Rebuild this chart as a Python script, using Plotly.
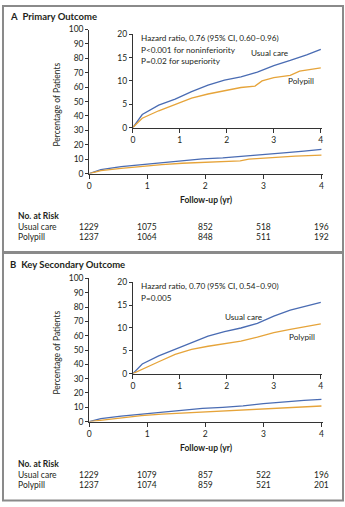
import plotly.graph_objects as go

W, H = 345, 507

# ---------- data ----------
years = [0, 1, 2, 3, 4]
t = [0, 0.2, 0.55, 0.9, 1.25, 1.6, 1.95, 2.3, 2.65, 3.0, 3.35, 3.7, 4.0]

a_usual = [0, 2.8, 4.8, 6.1, 7.7, 9.1, 10.2, 10.9, 11.9, 13.3, 14.4, 15.6, 16.8]
a_poly_t = [0, 0.2, 0.55, 0.9, 1.25, 1.6, 1.95, 2.3, 2.6, 2.75, 3.0, 3.35, 3.55, 4.0]
a_poly = [0, 2.0, 3.6, 5.0, 6.3, 7.2, 7.9, 8.6, 8.9, 10.0, 10.7, 11.2, 12.1, 12.8]

b_usual = [0, 2.1, 3.9, 5.3, 6.7, 8.2, 9.2, 10.0, 11.0, 12.6, 13.9, 14.8, 15.6]
b_poly = [0, 1.0, 2.6, 4.2, 5.3, 6.0, 6.5, 7.1, 8.0, 9.0, 9.7, 10.3, 10.9]

risk_groups = ["Usual care", "Polypill"]
a_risk_usual = [1229, 1075, 852, 518, 196]
a_risk_poly = [1237, 1064, 848, 511, 192]
b_risk_usual = [1229, 1079, 857, 522, 196]
b_risk_poly = [1237, 1074, 859, 521, 201]

main_yticks = [0, 10, 20, 30, 40, 50, 60, 70, 80, 90, 100]
inset_yticks = [0, 5, 10, 15, 20]

BLUE = "#4a6cb3"
ORANGE = "#e6a43a"
FONT = "Lato"
TXT = "#231f20"

def py(px):
    return 1 - px / H

def px_x(px):
    return px / W

fig = go.Figure()

panels = [
    dict(usual=a_usual, poly_t=a_poly_t, poly=a_poly, ax=("x", "y"), inset=("x2", "y2")),
    dict(usual=b_usual, poly_t=t, poly=b_poly, ax=("x3", "y3"), inset=("x4", "y4")),
]
for p in panels:
    for (xa, ya) in (p["ax"], p["inset"]):
        fig.add_trace(go.Scatter(x=t, y=p["usual"], mode="lines", xaxis=xa, yaxis=ya,
                                 line=dict(color=BLUE, width=1.3), showlegend=False, hoverinfo="skip"))
        fig.add_trace(go.Scatter(x=p["poly_t"], y=p["poly"], mode="lines", xaxis=xa, yaxis=ya,
                                 line=dict(color=ORANGE, width=1.3), showlegend=False, hoverinfo="skip"))

xdom = [px_x(88), px_x(324)]
ixdom = [px_x(132), px_x(323)]

axcommon = dict(showgrid=False, zeroline=False, showline=True, linecolor="#333", linewidth=1,
                ticks="outside", tickcolor="#333", ticklen=3, tickwidth=1,
                tickfont=dict(family=FONT, size=8.5, color=TXT))

def xax(dom, anchor, rng):
    d = dict(axcommon)
    d.update(domain=dom, anchor=anchor, range=rng, tickvals=years, ticklen=4)
    return d

def yax(dom, anchor, rng, ticks):
    d = dict(axcommon)
    d.update(domain=dom, anchor=anchor, range=rng, tickvals=ticks)
    return d

fig.update_layout(
    width=W, height=H, margin=dict(l=0, r=0, t=0, b=0),
    paper_bgcolor="white", plot_bgcolor="rgba(0,0,0,0)",
    xaxis=xax(xdom, "y", [0, 4.03]),
    yaxis=yax([py(172), py(25)], "x", [0, 100], main_yticks),
    xaxis2=xax(ixdom, "y2", [0, 4.03]),
    yaxis2=yax([py(125), py(30)], "x2", [0, 20], inset_yticks),
    xaxis3=xax(xdom, "y3", [0, 4.03]),
    yaxis3=yax([py(425), py(279)], "x3", [0, 100], main_yticks),
    xaxis4=xax(ixdom, "y4", [0, 4.03]),
    yaxis4=yax([py(376), py(283)], "x4", [0, 20], inset_yticks),
)

ann = []
def text(x, y, s, size=8.5, xanchor="left", bold=False, xref="paper", color=TXT):
    if bold:
        s = "<b>" + s + "</b>"
    ann.append(dict(x=x, y=y, xref=xref, yref="paper", text=s, showarrow=False,
                    xanchor=xanchor, yanchor="middle",
                    font=dict(family=FONT, size=size, color=color)))

def panel_text(off, letter, title, hr_lines, usual_pos, poly_pos, risk_u, risk_p, xref):
    text(px_x(6), py(12 + off), "<b>" + letter + "</b>  <b>" + title + "</b>", size=9.5)
    ann.append(dict(x=px_x(55), y=py(102 + off), xref="paper", yref="paper",
                    text="Percentage of Patients", showarrow=False, textangle=-90,
                    xanchor="center", yanchor="middle",
                    font=dict(family=FONT, size=8.5, color=TXT)))
    for i, line in enumerate(hr_lines):
        text(px_x(138), py(34 + off + 11.5 * i), line, size=8.2)
    text(px_x(usual_pos[0]), py(usual_pos[1] + off), "Usual care", size=8.2)
    text(px_x(poly_pos[0]), py(poly_pos[1] + off), "Polypill", size=8.2)
    text(px_x(206), py(199 + off), "Follow-up (yr)", size=8.5, xanchor="center", bold=True)
    text(px_x(14), py(215 + off), "No. at Risk", size=8.5, bold=True)
    text(px_x(14), py(226 + off), risk_groups[0])
    text(px_x(14), py(237 + off), risk_groups[1])
    for yr, n in zip(years, risk_u):
        text(yr, py(226 + off), str(n), xanchor="center", xref=xref)
    for yr, n in zip(years, risk_p):
        text(yr, py(237 + off), str(n), xanchor="center", xref=xref)

panel_text(0, "A", "Primary Outcome",
           ["Hazard ratio, 0.76 (95% CI, 0.60\u20130.96)",
            "P<0.001 for noninferiority",
            "P=0.02 for superiority"],
           (249, 49), (286, 78), a_risk_usual, a_risk_poly, "x")
panel_text(253, "B", "Key Secondary Outcome",
           ["Hazard ratio, 0.70 (95% CI, 0.54\u20130.90)",
            "P=0.005"],
           (223, 65), (287, 86), b_risk_usual, b_risk_poly, "x3")

fig.update_layout(annotations=ann)

# frame
shapes = [
    dict(type="rect", xref="paper", yref="paper", x0=px_x(1), x1=px_x(344), y0=py(505.5), y1=py(1),
         line=dict(color="#8a8a8a", width=2)),
    dict(type="line", xref="paper", yref="paper", x0=0, x1=1, y0=py(252.5), y1=py(252.5),
         line=dict(color="#8a8a8a", width=3)),
]
fig.update_layout(shapes=shapes)

fig.write_html("out.html")
